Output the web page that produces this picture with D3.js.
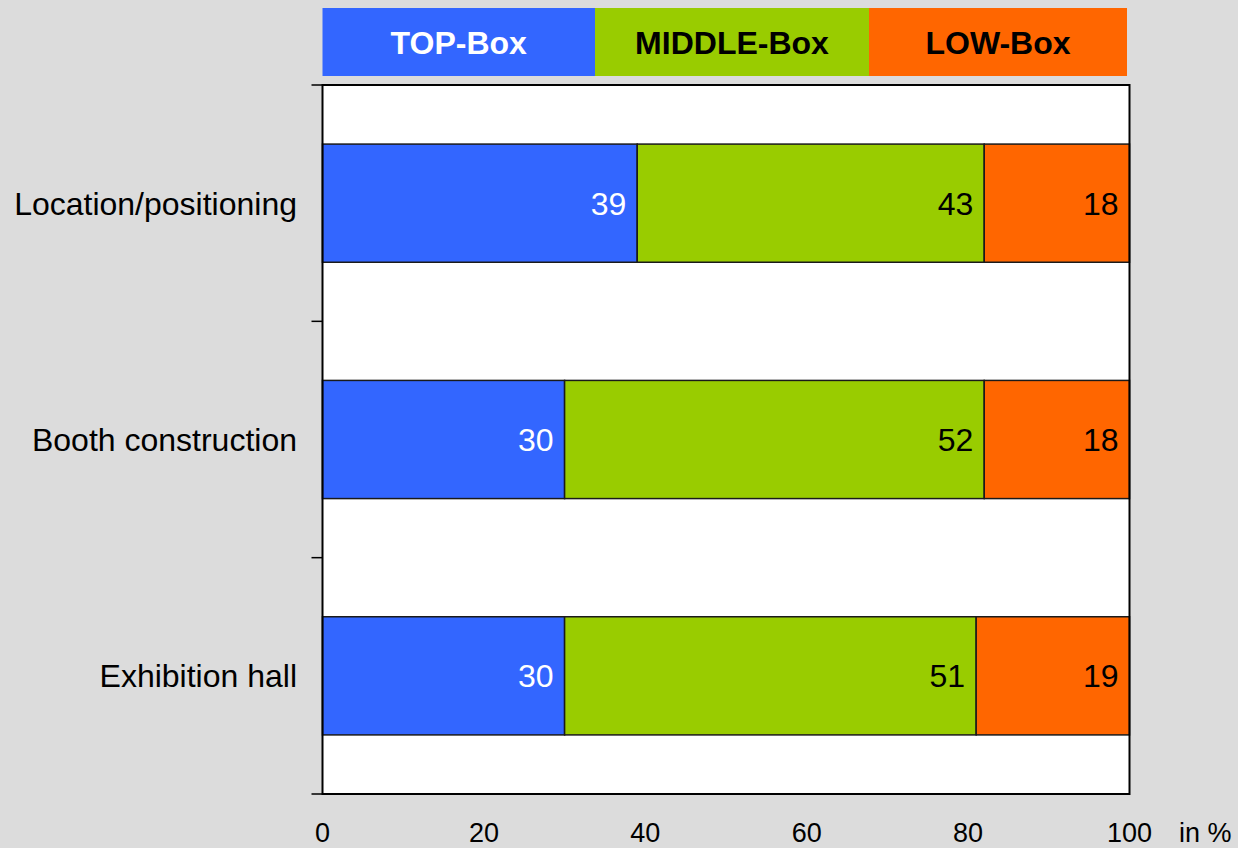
<!DOCTYPE html>
<html>
<head>
<meta charset="utf-8">
<script src="https://cdn.jsdelivr.net/npm/d3@7"></script>
<style>
  html, body { margin: 0; padding: 0; background: #dcdcdc; }
  svg { display: block; font-family: "Liberation Sans", Arial, sans-serif; }
</style>
</head>
<body>
<svg id="chart" width="1238" height="848"></svg>
<script>
// Categories (top to bottom) and shares per box, in %
const categories = ["Location/positioning", "Booth construction", "Exhibition hall"];
const topBox    = [39, 30, 30];
const middleBox = [43, 52, 51];
const lowBox    = [18, 18, 19];
const seriesNames = ["TOP-Box", "MIDDLE-Box", "LOW-Box"];
const xTicks = [0, 20, 40, 60, 80, 100];

const colors = ["#3366ff", "#99cc00", "#ff6600"];
const labelColors = ["#ffffff", "#000000", "#000000"];

const svg = d3.select("#chart");
const W = 1238, H = 848;
const margin = { left: 322.5, right: W - 1129.5, top: 85, bottom: H - 794 };

const x = d3.scaleLinear().domain([0, 100]).range([margin.left, W - margin.right]);
const y = d3.scaleBand().domain(categories).range([margin.top, H - margin.bottom]).paddingInner(0.5).paddingOuter(0.25);
const yOuter = d3.scaleBand().domain(categories).range([margin.top, H - margin.bottom]);

// plot background
svg.append("rect")
  .attr("x", x(0)).attr("y", margin.top)
  .attr("width", x(100) - x(0)).attr("height", H - margin.bottom - margin.top)
  .attr("fill", "#ffffff");

// stacked segments
const rows = categories.map((c, i) => ({ cat: c, vals: [topBox[i], middleBox[i], lowBox[i]] }));
const segs = [];
rows.forEach(r => {
  let acc = 0;
  r.vals.forEach((v, k) => {
    segs.push({ cat: r.cat, k, x0: acc, x1: acc + v, v });
    acc += v;
  });
});

svg.append("g").selectAll("rect").data(segs).join("rect")
  .attr("x", d => x(d.x0))
  .attr("y", d => y(d.cat))
  .attr("width", d => x(d.x1) - x(d.x0))
  .attr("height", y.bandwidth())
  .attr("fill", d => colors[d.k])
  .attr("stroke", "#1a1a1a")
  .attr("stroke-width", 1.5);

svg.append("g").selectAll("text").data(segs).join("text")
  .attr("x", d => x(d.x1) - 11)
  .attr("y", d => y(d.cat) + y.bandwidth() / 2)
  .attr("dy", "0.36em")
  .attr("text-anchor", "end")
  .attr("font-size", 32)
  .attr("fill", d => labelColors[d.k])
  .text(d => d.v);

// plot frame
svg.append("rect")
  .attr("x", x(0)).attr("y", margin.top)
  .attr("width", x(100) - x(0)).attr("height", H - margin.bottom - margin.top)
  .attr("fill", "none").attr("stroke", "#000").attr("stroke-width", 2);

// y axis ticks at band boundaries
const boundaries = [margin.top].concat(categories.map(c => yOuter(c) + yOuter.bandwidth()));
svg.append("g").selectAll("line").data(boundaries).join("line")
  .attr("x1", x(0) - 11).attr("x2", x(0))
  .attr("y1", d => d).attr("y2", d => d)
  .attr("stroke", "#000").attr("stroke-width", 1.5);

// category labels
svg.append("g").selectAll("text").data(categories).join("text")
  .attr("x", 297)
  .attr("y", d => y(d) + y.bandwidth() / 2)
  .attr("dy", "0.36em")
  .attr("text-anchor", "end")
  .attr("font-size", 32)
  .attr("fill", "#000")
  .text(d => d);

// x tick labels
svg.append("g").selectAll("text").data(xTicks).join("text")
  .attr("x", d => x(d))
  .attr("y", 842)
  .attr("text-anchor", "middle")
  .attr("font-size", 27)
  .attr("fill", "#000")
  .text(d => d);

svg.append("text")
  .attr("x", 1179).attr("y", 842)
  .attr("font-size", 27).attr("fill", "#000")
  .text("in %");

// legend header boxes
const legendEdges = [322.5, 595, 869, 1127];
const lg = svg.append("g");
seriesNames.forEach((name, k) => {
  lg.append("rect")
    .attr("x", legendEdges[k]).attr("y", 8)
    .attr("width", legendEdges[k + 1] - legendEdges[k]).attr("height", 68)
    .attr("fill", colors[k]);
  lg.append("text")
    .attr("x", (legendEdges[k] + legendEdges[k + 1]) / 2)
    .attr("y", 42).attr("dy", "0.36em")
    .attr("text-anchor", "middle")
    .attr("font-size", 32).attr("font-weight", "bold")
    .attr("fill", labelColors[k])
    .text(name);
});
</script>
</body>
</html>
